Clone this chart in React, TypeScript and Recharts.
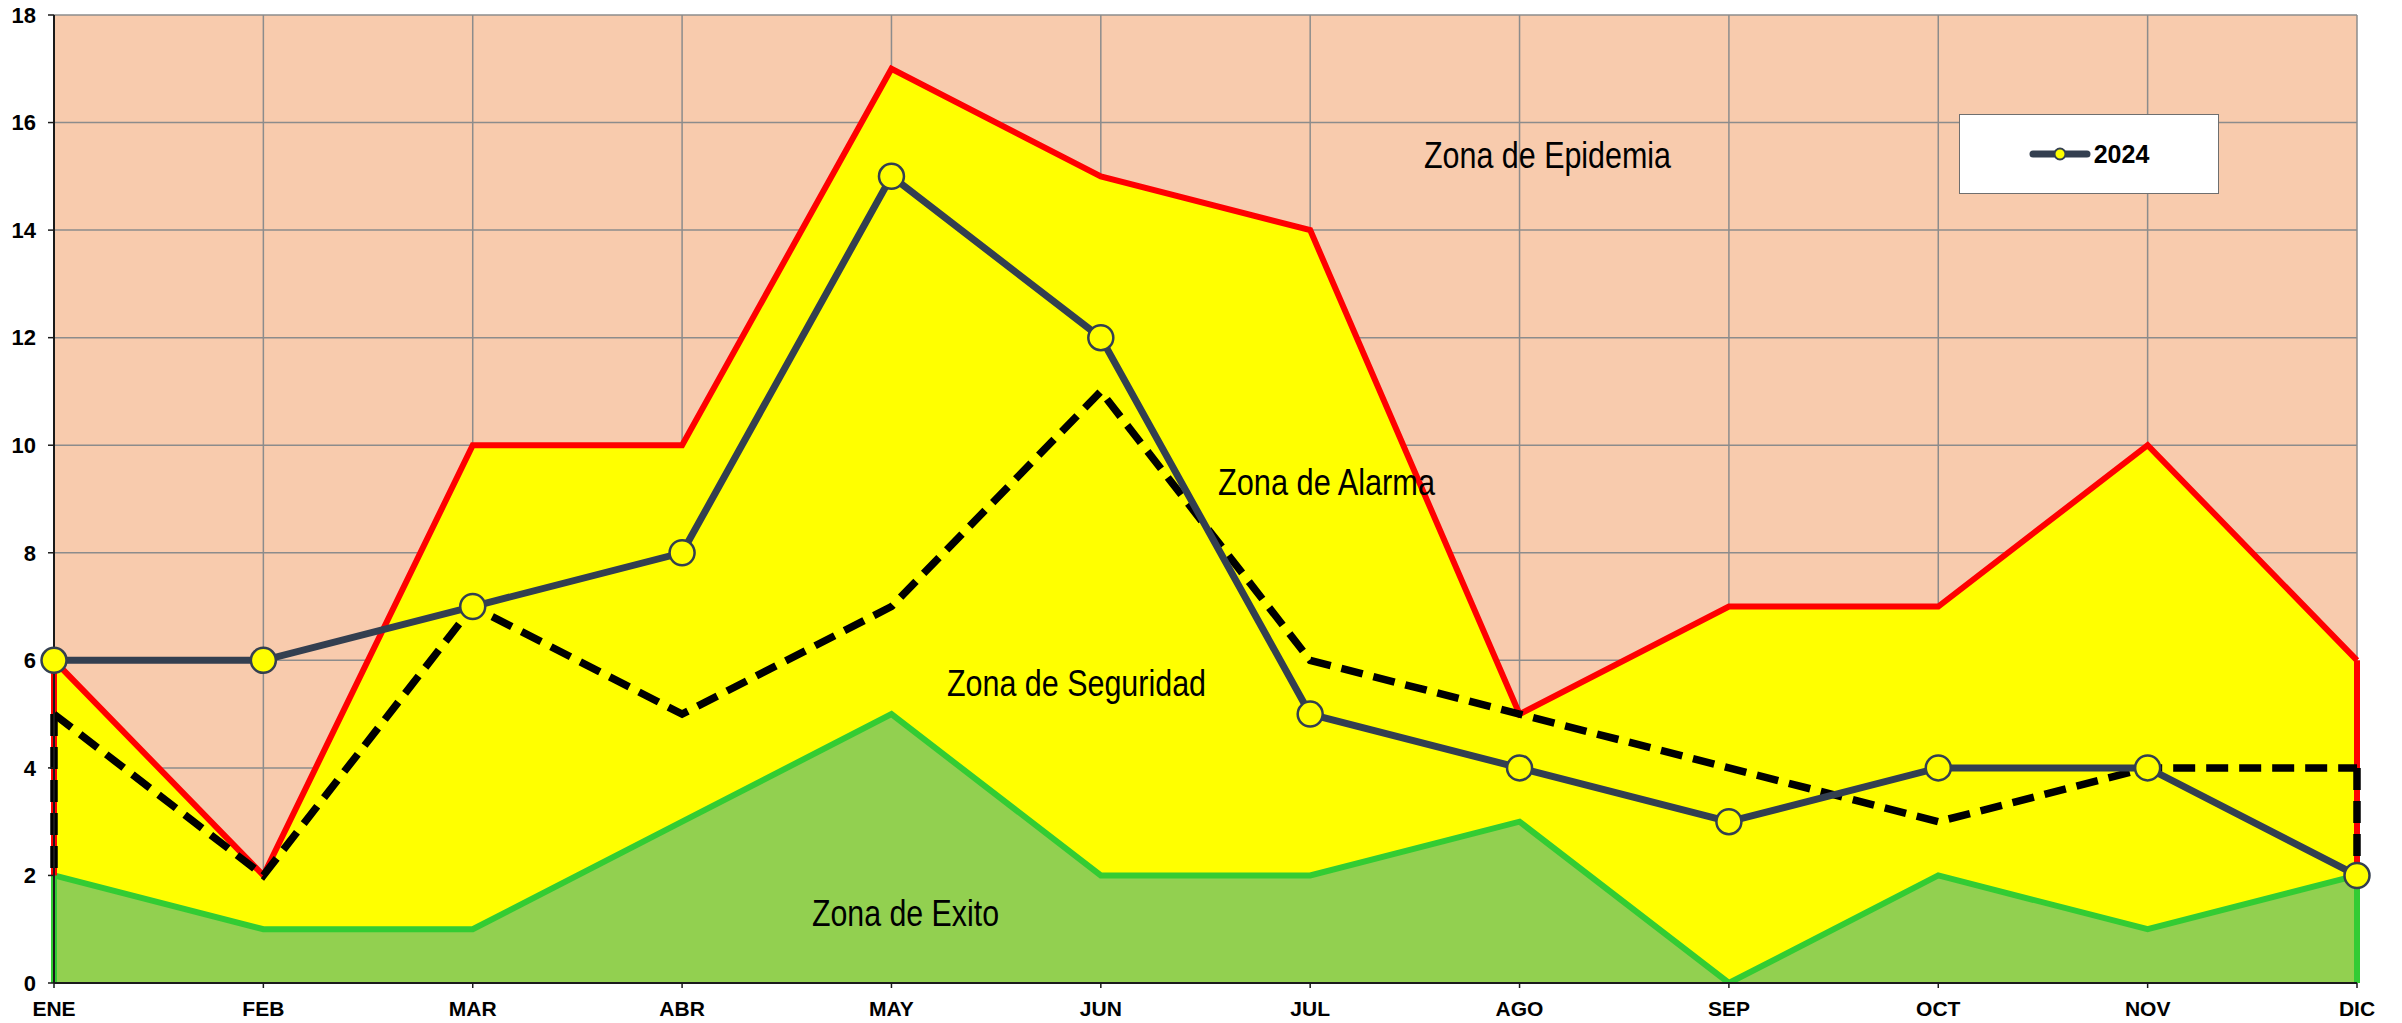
import React from "react";
import {
  ComposedChart,
  Area,
  Line,
  XAxis,
  YAxis,
  CartesianGrid,
  ReferenceLine,
} from "recharts";

const months = ["ENE", "FEB", "MAR", "ABR", "MAY", "JUN", "JUL", "AGO", "SEP", "OCT", "NOV", "DIC"];
const epidemia = [6, 2, 10, 10, 17, 15, 14, 5, 7, 7, 10, 6];
const exito = [2, 1, 1, 3, 5, 2, 2, 3, 0, 2, 1, 2];
const seguridad = [5, 2, 7, 5, 7, 11, 6, 5, 4, 3, 4, 4];
const casos2024 = [6, 6, 7, 8, 15, 12, 5, 4, 3, 4, 4, 2];
const yTicks = [0, 2, 4, 6, 8, 10, 12, 14, 16, 18];

const FONT = "'Liberation Sans', Arial, sans-serif";
const LINE_COLOR = "#333F50";
const DASH = "22 11";

const data = months.map((m, i) => ({
  month: m,
  epidemia: epidemia[i],
  exito: exito[i],
  seguridad: seguridad[i],
  y2024: casos2024[i],
}));

const first = 0;
const last = months.length - 1;

// zone captions, placed like the original annotations
const zoneLabels = [
  { text: "Zona de Epidemia", x: 1424, y: 168, w: 247 },
  { text: "Zona de Alarma", x: 1218, y: 495, w: 217 },
  { text: "Zona de Seguridad", x: 947, y: 696, w: 259 },
  { text: "Zona de Exito", x: 812, y: 926, w: 187 },
];

const LegendBox = () => (
  <div
    style={{
      position: "absolute",
      left: 1959,
      top: 114,
      width: 258,
      height: 78,
      background: "#fff",
      border: "1.5px solid #6f6f6f",
      display: "flex",
      alignItems: "center",
      justifyContent: "center",
      fontFamily: FONT,
    }}
  >
    <svg width={62} height={20} style={{ marginRight: 3 }}>
      <line x1={4} y1={10} x2={58} y2={10} stroke={LINE_COLOR} strokeWidth={7} strokeLinecap="round" />
      <circle cx={31} cy={10} r={5.5} fill="#FFFF00" stroke={LINE_COLOR} strokeWidth={2} />
    </svg>
    <span style={{ fontWeight: "bold", fontSize: 25, color: "#000" }}>2024</span>
  </div>
);

export default function App() {
  return (
    <div style={{ position: "absolute", left: 0, top: 0, width: 2402, height: 1023, background: "#fff" }}>
      <ComposedChart
        width={2402}
        height={1023}
        data={data}
        margin={{ top: 15, right: 45, left: 0, bottom: 0 }}
      >
        <CartesianGrid fill="#F8CBAD" fillOpacity={1} stroke="#8C8C8C" strokeWidth={1.5} />
        <XAxis
          dataKey="month"
          scale="point"
          padding={{ left: 0, right: 0 }}
          height={40}
          tickSize={5}
          tickMargin={13}
          axisLine={{ stroke: "#1a1a1a", strokeWidth: 2 }}
          tickLine={{ stroke: "#1a1a1a", strokeWidth: 1.5 }}
          tick={{ fill: "#000", fontSize: 21, fontWeight: "bold", fontFamily: FONT }}
          interval={0}
        />
        <YAxis
          domain={[0, 18]}
          ticks={yTicks}
          width={54}
          tickSize={6}
          tickMargin={12}
          axisLine={{ stroke: "#1a1a1a", strokeWidth: 2 }}
          tickLine={{ stroke: "#1a1a1a", strokeWidth: 1.5 }}
          tick={{ fill: "#000", fontSize: 22, fontWeight: "bold", fontFamily: FONT }}
          allowDataOverflow
        />
        <Area
          type="linear"
          dataKey="epidemia"
          stroke="#FF0000"
          strokeWidth={6}
          fill="#FFFF00"
          fillOpacity={1}
          isAnimationActive={false}
        />
        <Area
          type="linear"
          dataKey="exito"
          stroke="#33CC33"
          strokeWidth={6}
          fill="#92D050"
          fillOpacity={1}
          isAnimationActive={false}
        />
        <ReferenceLine
          segment={[{ x: months[first], y: epidemia[first] }, { x: months[first], y: 0 }]}
          stroke="#FF0000"
          strokeWidth={6}
        />
        <ReferenceLine
          segment={[{ x: months[last], y: epidemia[last] }, { x: months[last], y: 0 }]}
          stroke="#FF0000"
          strokeWidth={6}
        />
        <ReferenceLine
          segment={[{ x: months[first], y: seguridad[first] }, { x: months[first], y: exito[first] }]}
          stroke="#000"
          strokeWidth={7.5}
          strokeDasharray={DASH}
        />
        <ReferenceLine
          segment={[{ x: months[last], y: seguridad[last] }, { x: months[last], y: exito[last] }]}
          stroke="#000"
          strokeWidth={7.5}
          strokeDasharray={DASH}
        />
        <ReferenceLine
          segment={[{ x: months[first], y: exito[first] }, { x: months[first], y: 0 }]}
          stroke="#33CC33"
          strokeWidth={6}
        />
        <ReferenceLine
          segment={[{ x: months[last], y: exito[last] }, { x: months[last], y: 0 }]}
          stroke="#33CC33"
          strokeWidth={6}
        />
        <Line
          type="linear"
          dataKey="seguridad"
          stroke="#000"
          strokeWidth={7.5}
          strokeDasharray={DASH}
          dot={false}
          activeDot={false}
          isAnimationActive={false}
        />
        <Line
          type="linear"
          dataKey="y2024"
          name="2024"
          stroke={LINE_COLOR}
          strokeWidth={7}
          dot={{ r: 12.5, fill: "#FFFF00", stroke: LINE_COLOR, strokeWidth: 2.5 }}
          activeDot={false}
          isAnimationActive={false}
        />
      </ComposedChart>
      <LegendBox />
      <svg
        width={2402}
        height={1023}
        style={{ position: "absolute", left: 0, top: 0, pointerEvents: "none" }}
      >
        {zoneLabels.map((z) => (
          <text
            key={z.text}
            x={z.x}
            y={z.y}
            fontSize={36}
            fontFamily={FONT}
            fill="#000"
            textLength={z.w}
            lengthAdjust="spacingAndGlyphs"
          >
            {z.text}
          </text>
        ))}
      </svg>
    </div>
  );
}
